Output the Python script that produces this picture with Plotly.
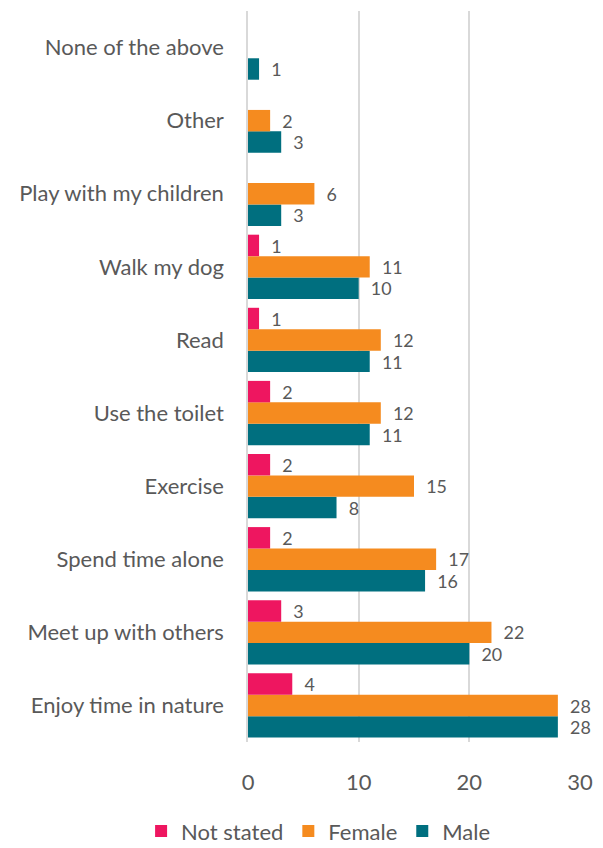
import plotly.graph_objects as go

categories = ["Enjoy time in nature", "Meet up with others", "Spend time alone", "Exercise",
              "Use the toilet", "Read", "Walk my dog", "Play with my children", "Other",
              "None of the above"]
not_stated = [4, 3, 2, 2, 2, 1, 1, None, None, None]
female = [28, 22, 17, 15, 12, 12, 11, 6, 2, None]
male = [28, 20, 16, 8, 11, 11, 10, 3, 3, 1]
x_ticks = [0, 10, 20, 30]

FONT = "Lato"
TXT = "#595959"

fig = go.Figure()
series = [("Male", male, "#006F7F"), ("Female", female, "#F58B1F"), ("Not stated", not_stated, "#EE1660")]
for name, vals, col in series:
    fig.add_trace(go.Bar(
        y=categories, x=vals, name=name, orientation="h",
        marker=dict(color=col, line=dict(width=0)),
        text=[("\u00a0\u00a0" + str(v)) if v is not None else "" for v in vals],
        textposition="outside", cliponaxis=False,
        textfont=dict(family=FONT, size=20, color=TXT),
    ))

fig.update_layout(
    width=587, height=840,
    barmode="group", bargap=0.12, bargroupgap=0,
    plot_bgcolor="white", paper_bgcolor="white",
    margin=dict(l=240, r=15, t=3, b=106, autoexpand=False),
    font=dict(family=FONT, color=TXT),
    legend=dict(orientation="h", x=-0.322, xref="paper", xanchor="left", y=-0.122, yref="paper",
                yanchor="middle", traceorder="reversed", font=dict(size=22, color=TXT),
                itemsizing="constant"),
    xaxis=dict(range=[0, 30], tickvals=x_ticks, showgrid=True, gridcolor="#D9D9D9", gridwidth=1.5,
               zeroline=False, tickfont=dict(size=22, color=TXT), ticks="", ticklabelstandoff=25,
               ticklabeloverflow="allow", automargin=False),
    yaxis=dict(showgrid=False, tickfont=dict(size=22, color=TXT), ticks="", ticklabelstandoff=18,
               showline=True, linecolor="#D9D9D9", linewidth=1.5, automargin=False),
)
fig.write_html("out.html")
